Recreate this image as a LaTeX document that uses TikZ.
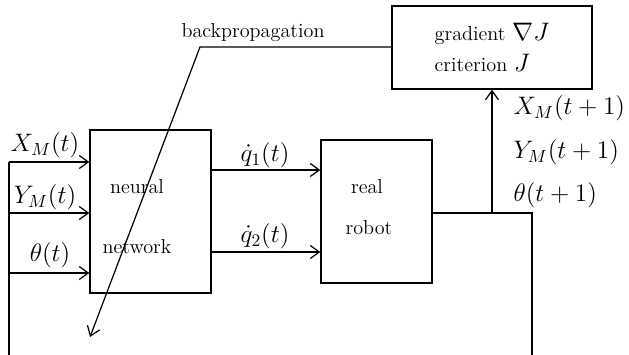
\documentclass[tikz,border=0pt]{standalone}
\usepackage{tikz}
\usetikzlibrary{arrows.meta, positioning}

\begin{document}
\begin{tikzpicture}[
        x=0.02cm, y=-0.02cm,
        >={Straight Barb[length=1.8mm, width=2.6mm]},
        line width=0.7pt,
        box/.style={draw, line width=0.8pt, inner sep=0pt},
        arr/.style={->},
        txt/.style={font=\fontsize{11.5}{18}\selectfont, inner sep=0pt},
        mth/.style={font=\Large, inner sep=0pt}
      ]
      \useasboundingbox (0,0) rectangle (629,355);

      % Boxes
      \node[box, minimum width=2.42cm, minimum height=3.26cm] (NN) at (150.5, 211.5) {};
      \node[box, minimum width=2.22cm, minimum height=2.86cm] (RB) at (376.5, 211.5) {};
      \node[box, minimum width=4.0cm, minimum height=1.66cm, txt, align=left]
      (GR) at (492, 47.5) {gradient {\Large$\nabla J$}\\criterion {\Large$J$}};

      % Box texts
      \node[txt] (nn1) at (137, 187) {neural};
      \node[txt] (nn2) at (137, 247) {network};
      \node[txt] (rb1) at (367, 187) {real};
      \node[txt] (rb2) at (369, 228) {robot};

      % Inputs of the network
      \coordinate (in1) at (9, 162);
      \coordinate (in2) at (9, 213);
      \coordinate (in3) at (9, 273);
      \coordinate (low) at (9, 355);
      \draw[arr] (in1) -- (NN.west |- in1);
      \draw[arr] (in2) -- (NN.west |- in2);
      \draw[arr] (in3) -- (NN.west |- in3);
      \draw (in1) -- (low);
      \node[mth] (xm) at (45, 145) {$X_M(t)$};
      \node[mth] (ym) at (45, 197) {$Y_M(t)$};
      \node[mth] (th) at (50, 255) {$\theta(t)$};

      % Commands
      \coordinate (q1) at (211, 170);
      \coordinate (q2) at (211, 252);
      \draw[arr] (q1) -- (RB.west |- q1);
      \draw[arr] (q2) -- (RB.west |- q2);
      \node[mth] (dq1) at (265, 155) {$\dot{q}_1(t)$};
      \node[mth] (dq2) at (265, 236) {$\dot{q}_2(t)$};

      % Robot output
      \coordinate (out) at (432, 213);
      \coordinate (tap) at (492, 213);
      \coordinate (crn) at (532, 213);
      \coordinate (bot) at (532, 355);
      \draw (out) -- (crn) -- (bot);
      \draw[arr] (tap) -- (GR.south);
      \node[mth, anchor=west] (xm1) at (513, 108) {$X_M(t+1)$};
      \node[mth, anchor=west] (ym1) at (513, 152) {$Y_M(t+1)$};
      \node[mth, anchor=west] (th1) at (513, 195) {$\theta(t+1)$};

      % Backpropagation
      \coordinate (bk) at (200, 47);
      \coordinate (bkend) at (90, 337);
      \draw[arr] (GR.west |- bk) -- (bk) -- (bkend);
      \node[txt] (bpl) at (253, 33) {backpropagation};
    \end{tikzpicture}
\end{document}
